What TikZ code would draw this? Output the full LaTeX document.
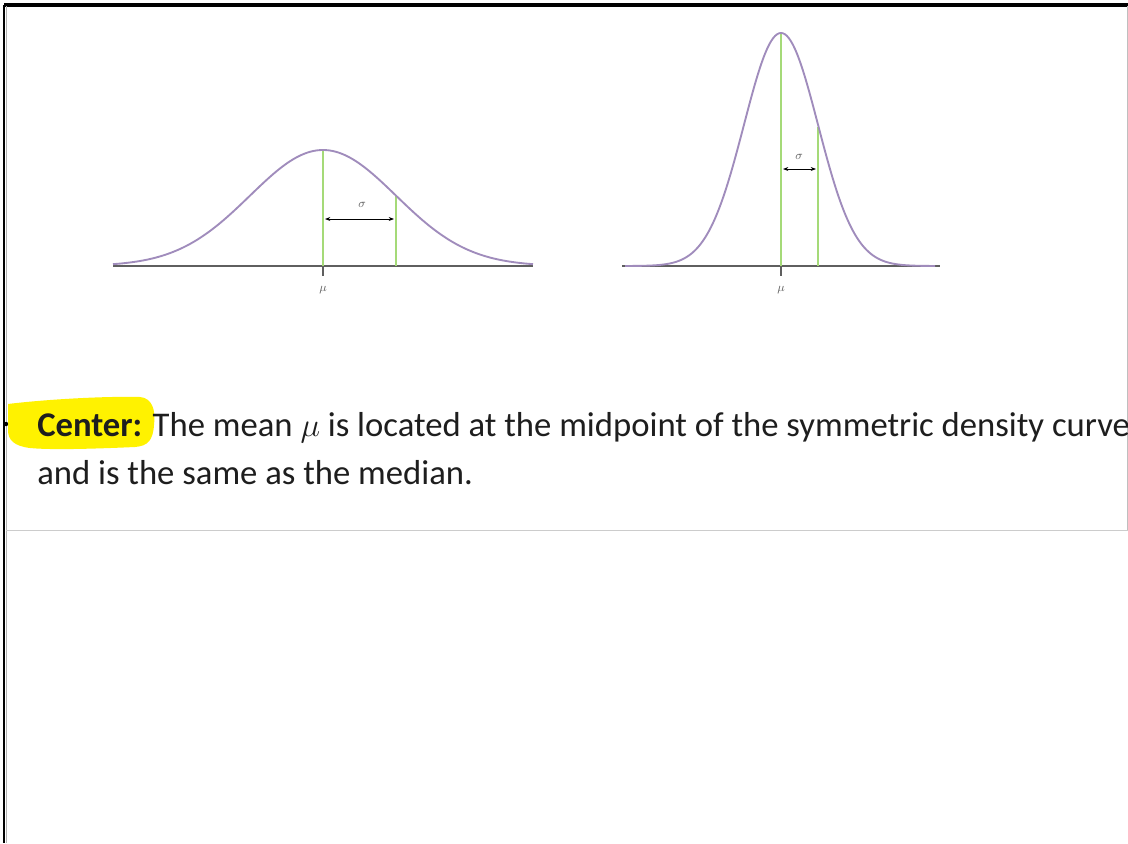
\documentclass[tikz,border=0pt]{standalone}
\usepackage{fontspec}
\setmainfont{Carlito}
\usetikzlibrary{arrows.meta}
\definecolor{curvec}{RGB}{160,140,188}
\definecolor{sigc}{RGB}{165,218,120}
\definecolor{basec}{RGB}{95,95,95}
\definecolor{hl}{RGB}{255,242,0}
\definecolor{txt}{RGB}{30,30,30}
\tikzset{
  curve/.style={curvec, line width=1.4pt},
  sigline/.style={sigc, line width=1.2pt},
  baseline/.style={basec, line width=1pt},
  sdarrow/.style={{Stealth[length=4pt,width=3pt]}-{Stealth[length=4pt,width=3pt]}, line width=0.6pt},
  smalllab/.style={font=\fontsize{9.5}{10}\selectfont, inner sep=0pt, text=basec},
  bodytext/.style={font=\fontsize{26}{31}\selectfont, inner sep=0pt, anchor=base west, text=txt},
}
\begin{document}
\begin{tikzpicture}[x=0.75pt,y=-0.75pt]
\useasboundingbox (0,0) rectangle (1128,843);
\clip (0,0) rectangle (1128,843);
\fill[white] (0,0) rectangle (1128,843);
% frame
\draw[line width=2.4pt] (4,5) -- (1128,5);
\draw[line width=1.5pt] (4,5) -- (4,843);
\draw[gray!60, line width=0.6pt] (6,6) -- (6,843);
\draw[gray!50, line width=0.6pt] (1127,6) -- (1127,530);
\draw[gray!40, line width=0.6pt] (6,530) -- (1128,530);

% ---- left curve
\coordinate (b1l) at (113,266);
\coordinate (b1r) at (533,266);
\coordinate (m1top) at (323,150);
\coordinate (m1bot) at (323,266);
\coordinate (m1tick) at (323,276);
\coordinate (s1top) at (396,196);
\coordinate (s1bot) at (396,266);
\coordinate (a1l) at (325,219);
\coordinate (a1r) at (394,219);
\draw[baseline] (b1l) -- (b1r);
\draw[sigline] (m1top) -- (m1bot);
\draw[sigline] (s1top) -- (s1bot);
\draw[baseline] (m1bot) -- (m1tick);
\draw[curve] plot[domain=113:533, samples=120, smooth] (\x, {266-116*exp(-((\x-323)/73)^2/2)});
\draw[sdarrow] (a1l) -- (a1r);
\node[smalllab] (sig1) at (362,205) {$\sigma$};
\node[smalllab] (mu1) at (323,290) {$\mu$};

% ---- right curve
\coordinate (b2l) at (622,266);
\coordinate (b2r) at (940,266);
\coordinate (m2top) at (781,33);
\coordinate (m2bot) at (781,266);
\coordinate (m2tick) at (781,276);
\coordinate (s2top) at (818,127);
\coordinate (s2bot) at (818,266);
\coordinate (a2l) at (783,169);
\coordinate (a2r) at (816,169);
\draw[baseline] (b2l) -- (b2r);
\draw[sigline] (m2top) -- (m2bot);
\draw[sigline] (s2top) -- (s2bot);
\draw[baseline] (m2bot) -- (m2tick);
\draw[curve] plot[domain=625:935, samples=160, smooth] (\x, {266-233*exp(-((\x-781)/37)^2/2)});
\draw[sdarrow] (a2l) -- (a2r);
\node[smalllab] (sig2) at (799,157) {$\sigma$};
\node[smalllab] (mu2) at (781,290) {$\mu$};

% ---- highlight
\fill[hl] (8,404) .. controls (40,400) and (100,396) .. (140,397)
  .. controls (152,398) and (156,410) .. (154,425)
  .. controls (153,440) and (148,446) .. (135,447)
  .. controls (90,449) and (50,450) .. (30,448)
  .. controls (14,446) and (8,440) .. (8,430) -- cycle;
\fill[black] (6,424) circle (2.2);

% ---- text
\node[bodytext] (line1) at (37,436) {\textbf{Center:} The mean $\mu$ is located at the midpoint of the symmetric density curve};
\node[bodytext] (line2) at (37,484) {and is the same as the median.};
\end{tikzpicture}
\end{document}
